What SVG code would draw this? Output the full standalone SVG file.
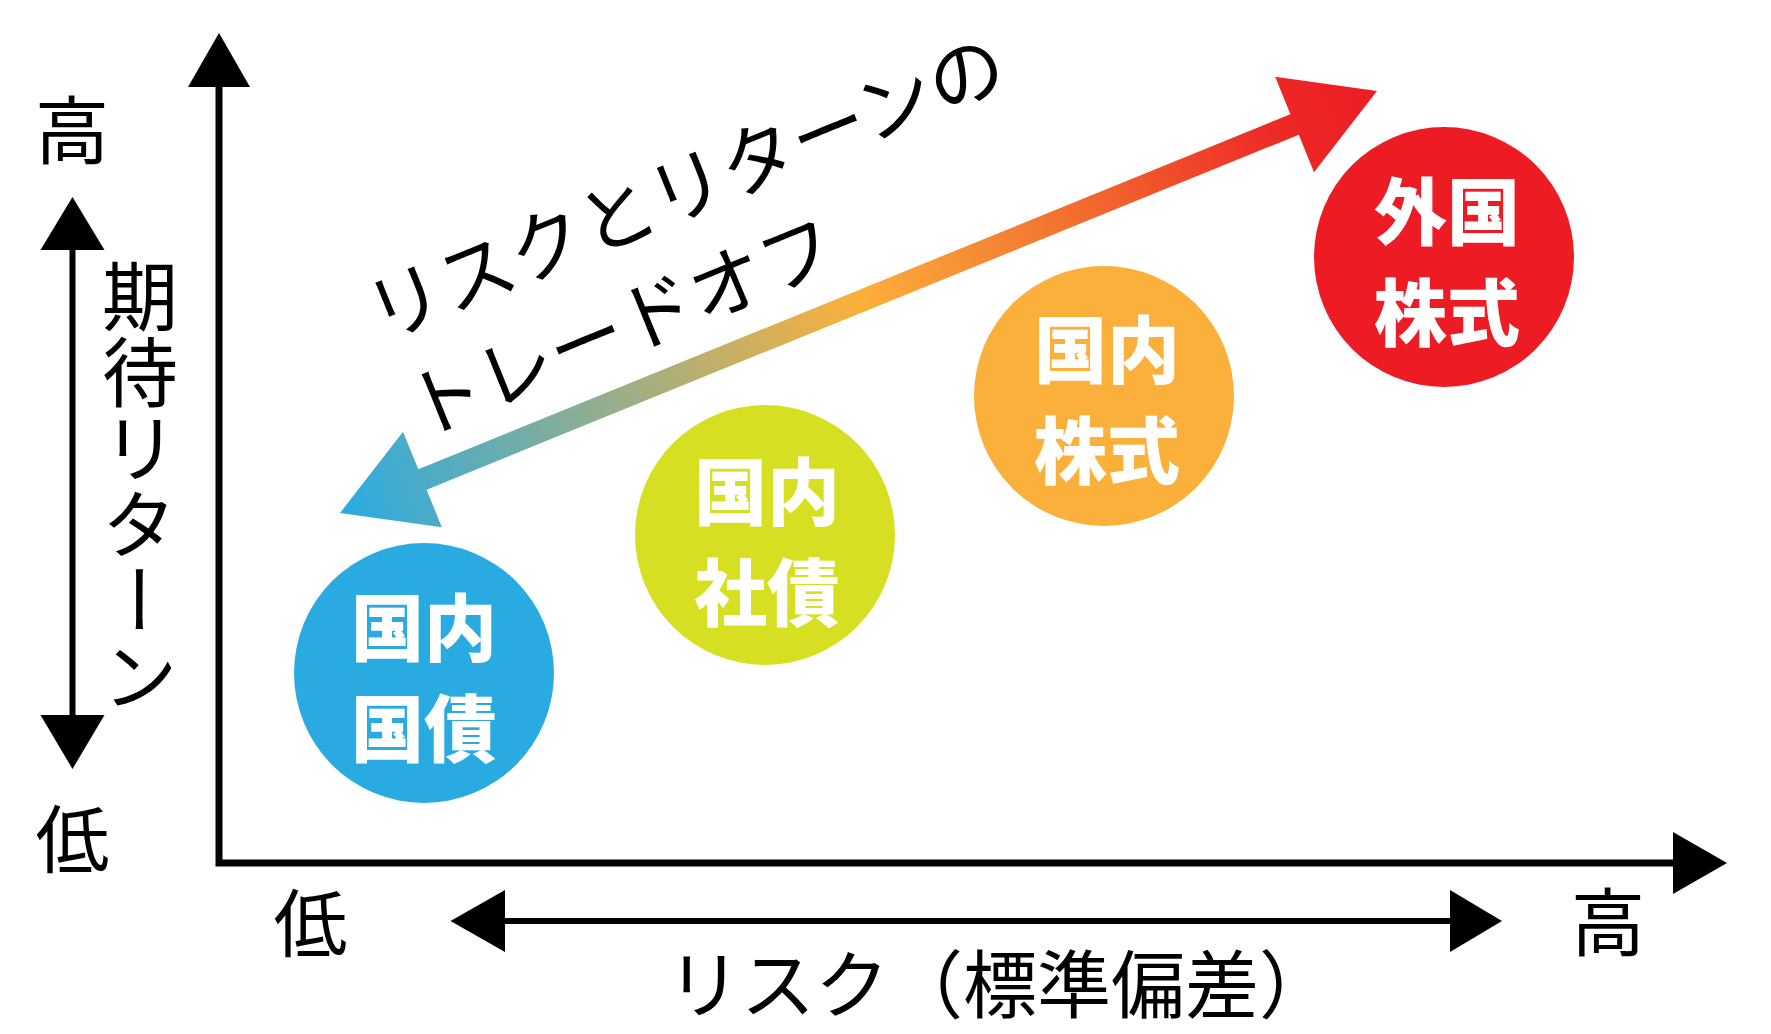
<svg xmlns="http://www.w3.org/2000/svg" width="1771" height="1034" viewBox="0 0 1771 1034">
<defs>
<style>
.lbl{font-family:"Noto Sans CJK JP","Noto Sans CJK SC",sans-serif;font-size:74px;fill:#000;text-anchor:middle;dominant-baseline:central}
.ttl{font-family:"Noto Sans CJK JP","Noto Sans CJK SC",sans-serif;font-size:76px;fill:#000;dominant-baseline:central}
.ctx{font-family:"Noto Sans CJK JP","Noto Sans CJK SC",sans-serif;font-size:73px;font-weight:900;fill:#fff;text-anchor:middle;dominant-baseline:central}
.ax{fill:none;stroke:#000;stroke-width:7;stroke-linejoin:miter}
.hd{fill:#000}
</style>
<linearGradient id="tg" gradientUnits="userSpaceOnUse" x1="340" y1="513" x2="1377" y2="91">
<stop offset="0" stop-color="#29abe2"/>
<stop offset="0.5" stop-color="#fbb03b"/>
<stop offset="0.72" stop-color="#f26a2e"/>
<stop offset="0.9" stop-color="#ed2a26"/>
<stop offset="1" stop-color="#ed1c24"/>
</linearGradient>
</defs>
<rect width="1771" height="1034" fill="#fff"/>

<g id="connectors">
<path class="ax" d="M219,86 V863 H1676"/>
<polygon class="hd" points="219,33 250,87 188,87"/>
<polygon class="hd" points="1727,863 1673,832 1673,894"/>
<line x1="72.5" y1="248" x2="72.5" y2="717" stroke="#000" stroke-width="6"/>
<polygon class="hd" points="72.5,197 104.5,250 40.5,250"/>
<polygon class="hd" points="72.5,769 104.5,715 40.5,715"/>
<line x1="503" y1="921" x2="1452" y2="921" stroke="#000" stroke-width="6"/>
<polygon class="hd" points="450.5,921 505,890 505,952"/>
<polygon class="hd" points="1502,921 1450,890 1450,952"/>
<polygon fill="url(#tg)" points="340,513 403,431.8 418.3,469.3 1290.4,114.3 1275.2,76.8 1377,91 1314,172.2 1298.8,134.7 426.6,489.7 441.8,527.2"/>
</g>

<g id="axis-labels">
<text class="lbl" x="72" y="125">高</text>
<text class="lbl" x="72.5" y="834">低</text>
<text class="lbl" x="310.5" y="918">低</text>
<text class="lbl" x="1608" y="917">高</text>
<text class="lbl" x="140" y="258" style="writing-mode:vertical-rl;text-anchor:start;font-size:76px">期待リターン</text>
<text class="lbl" x="667" y="979" style="text-anchor:start">リスク（標準偏差）</text>
</g>

<g id="tradeoff-label" transform="translate(404,297) rotate(-22.15)">
<text class="ttl" x="-38" y="0">リスクとリターンの</text>
<text class="ttl" x="-38" y="104">トレードオフ</text>
</g>

<g id="node-jgb">
<circle cx="424" cy="673" r="130" fill="#29abe2"/>
<text class="ctx" x="424" y="623">国内</text>
<text class="ctx" x="424" y="724">国債</text>
</g>
<g id="node-corp">
<circle cx="765" cy="535" r="130" fill="#d7df23"/>
<text class="ctx" x="767" y="487">国内</text>
<text class="ctx" x="767" y="588">社債</text>
</g>
<g id="node-dstock">
<circle cx="1104" cy="396" r="130" fill="#fbb03b"/>
<text class="ctx" x="1107" y="345">国内</text>
<text class="ctx" x="1107" y="446">株式</text>
</g>
<g id="node-fstock">
<circle cx="1444" cy="257" r="130" fill="#ed1c24"/>
<text class="ctx" x="1447" y="207">外国</text>
<text class="ctx" x="1447" y="308">株式</text>
</g>
</svg>
